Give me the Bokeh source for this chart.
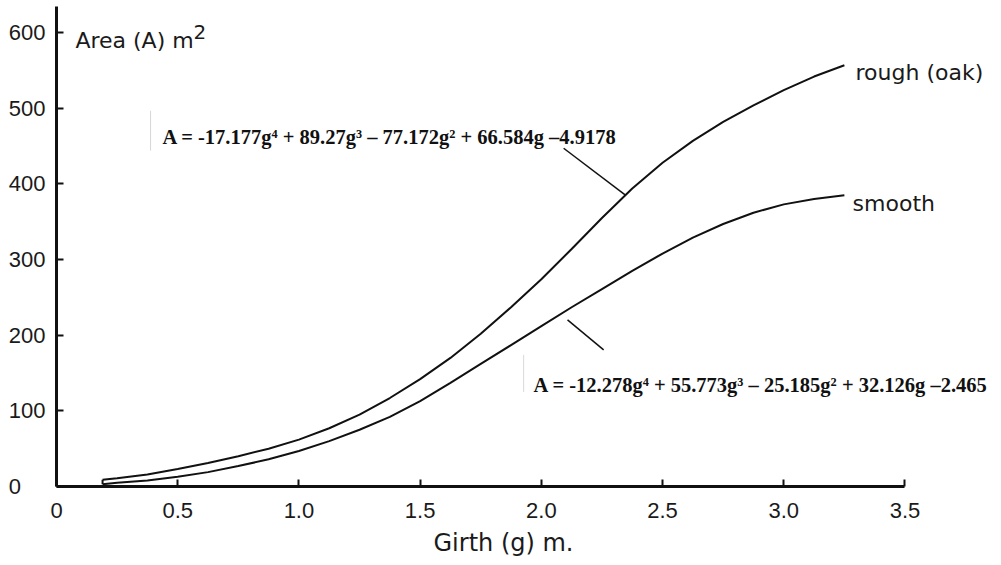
from bokeh.plotting import figure
from bokeh.models import Label, FixedTicker, Range1d, Title
from bokeh.embed import file_html
from bokeh.resources import INLINE

# ---- data ----
girth = [0.19, 0.25, 0.375, 0.5, 0.625, 0.75, 0.875, 1.0, 1.125, 1.25, 1.375, 1.5, 1.625,
         1.75, 1.875, 2.0, 2.125, 2.25, 2.375, 2.5, 2.625, 2.75, 2.875, 3.0, 3.125, 3.25]
area_rough = [9, 11, 16, 23, 31, 40, 50, 62, 77, 95, 117, 142, 170,
              202, 237, 274, 314, 355, 394, 428, 457, 482, 504, 524, 542, 557]
area_smooth = [3, 5, 8, 13, 19, 27, 36, 47, 60, 75, 92, 113, 137,
               162, 187, 212, 237, 261, 285, 308, 329, 347, 362, 373, 380, 385]
series_names = ["rough (oak)", "smooth"]

x_ticks = [0, 0.5, 1.0, 1.5, 2.0, 2.5, 3.0, 3.5]
x_tick_labels = ["0", "0.5", "1.0", "1.5", "2.0", "2.5", "3.0", "3.5"]
y_ticks = [0, 100, 200, 300, 400, 500, 600]
y_tick_labels = ["0\u00a0\u00a0\u00a0\u00a0", "100", "200", "300", "400", "500", "600"]

eq_rough = "A = -17.177g\u2074 + 89.27g\u00b3 \u2013 77.172g\u00b2 + 66.584g \u20134.9178"
eq_smooth = "A = -12.278g\u2074 + 55.773g\u00b3 \u2013 25.185g\u00b2 + 32.126g \u20132.465"

# ---- figure ----
p = figure(width=1000, height=562, x_range=Range1d(0, 3.894), y_range=Range1d(0, 634.6),
           output_backend="svg", toolbar_location=None,
           min_border_left=56, min_border_right=0, min_border_top=6, min_border_bottom=75)
p.grid.visible = False
p.outline_line_color = None
p.background_fill_color = "white"
p.border_fill_color = "white"

for ax in (p.xaxis[0], p.yaxis[0]):
    ax.axis_line_width = 3
    ax.axis_line_color = "#111111"
    ax.major_tick_in = 7
    ax.major_tick_out = 0
    ax.major_tick_line_width = 2
    ax.major_tick_line_color = "#111111"
    ax.minor_tick_line_color = None
    ax.major_label_text_font = "Liberation Sans"
    ax.major_label_text_font_size = "22px"
    ax.major_label_text_color = "#1a1a1a"

p.xaxis.bounds = (0, 3.5)
p.xaxis.ticker = FixedTicker(ticks=x_ticks)
p.xaxis.major_label_overrides = dict(zip(x_ticks, x_tick_labels))
p.xaxis.major_label_standoff = 16

p.yaxis.ticker = FixedTicker(ticks=y_ticks)
p.yaxis.major_label_overrides = dict(zip(y_ticks, y_tick_labels))
p.yaxis.major_label_standoff = 11

p.add_layout(Title(text="Girth (g) m.", align="left", offset=377, text_font="DejaVu Sans",
                   text_font_size="24px", text_font_style="normal", text_color="#1a1a1a",
                   standoff=12), "below")

# ---- curves ----
p.line(girth, area_rough, line_color="#111111", line_width=2)
p.line(girth, area_smooth, line_color="#111111", line_width=2)
p.segment(x0=[girth[0]], y0=[area_smooth[0]], x1=[girth[0]], y1=[area_rough[0]],
          line_color="#111111", line_width=2)

# ---- annotations ----
lab_font = "DejaVu Sans"
p.add_layout(Label(x=3.296, y=547.5, text=series_names[0], text_font=lab_font,
                   text_font_size="22px", text_color="#1a1a1a", text_baseline="alphabetic"))
p.add_layout(Label(x=3.284, y=374.7, text=series_names[1], text_font=lab_font,
                   text_font_size="22px", text_color="#1a1a1a", text_baseline="alphabetic"))

p.add_layout(Label(x=0.078, y=589.7, text="Area (A) m", text_font=lab_font,
                   text_font_size="22px", text_color="#1a1a1a", text_baseline="alphabetic"))
p.add_layout(Label(x=0.565, y=600.3, text="2", text_font=lab_font,
                   text_font_size="20px", text_color="#1a1a1a", text_baseline="alphabetic"))

eq_font = "Liberation Serif"
p.add_layout(Label(x=0.437, y=461.7, text=eq_rough, text_font=eq_font, text_font_style="bold",
                   text_font_size="20.5px", text_color="#111111", text_baseline="alphabetic"))
p.add_layout(Label(x=1.968, y=134.6, text=eq_smooth, text_font=eq_font, text_font_style="bold",
                   text_font_size="20.5px", text_color="#111111", text_baseline="alphabetic"))

# leader lines from equations to curves, and faint text-box edges from the scan
p.segment(x0=[2.092, 2.108], y0=[447.2, 220.3], x1=[2.347, 2.257], y1=[385.2, 180.7],
          line_color="#111111", line_width=1.5)
p.segment(x0=[0.388, 1.927], y0=[496.7, 174.0], x1=[0.388, 1.927], y1=[444.0, 125.0],
          line_color="#d8d8d8", line_width=1)

open("out.html", "w").write(file_html(p, INLINE))
